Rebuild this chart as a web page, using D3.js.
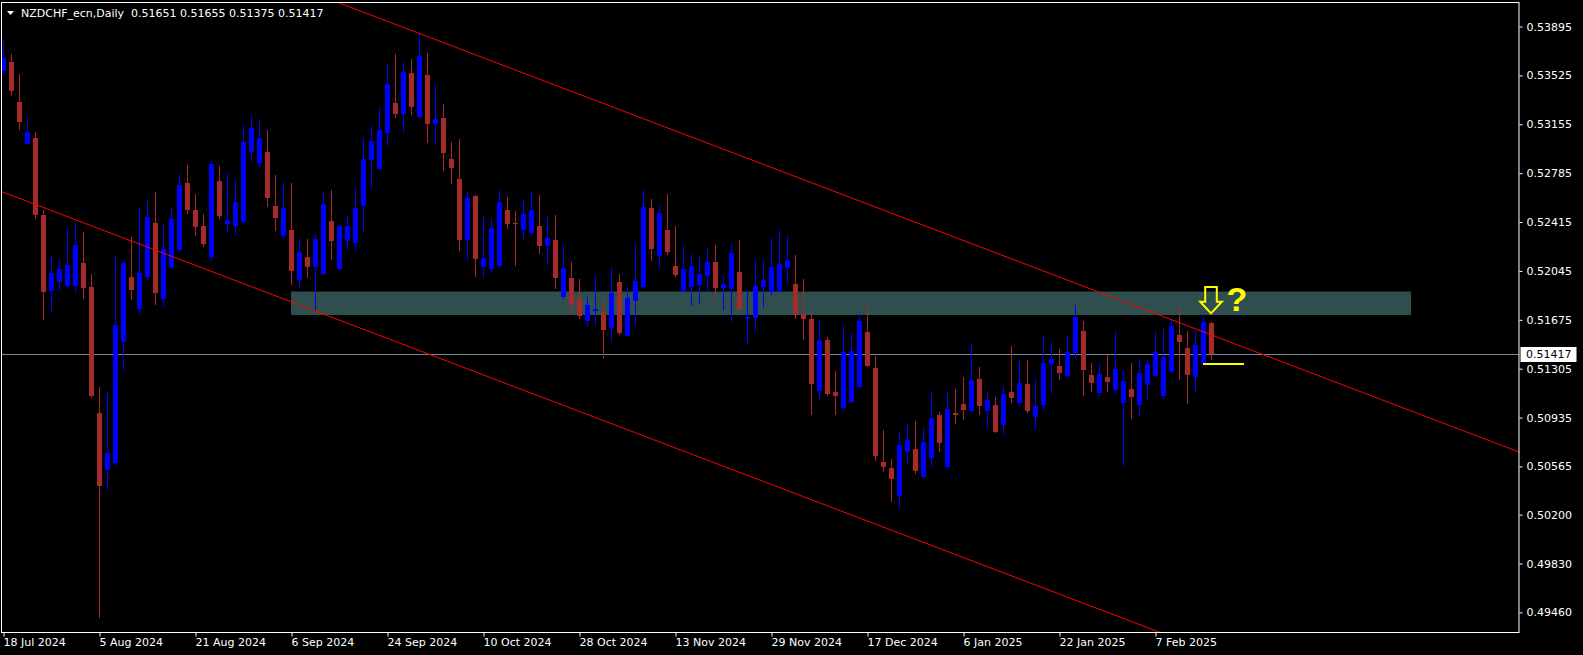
<!DOCTYPE html>
<html>
<head>
<meta charset="utf-8">
<script src="https://cdn.jsdelivr.net/npm/d3@7/dist/d3.min.js"></script>
<style>
  html, body { margin: 0; padding: 0; background: #000; overflow: hidden; }
  svg { display: block; }
  text { font-family: "DejaVu Sans", sans-serif; }
</style>
</head>
<body>
<svg id="chart" width="1583" height="655"></svg>
<script>
// ---------- DATA ----------
const symbolTitle = "NZDCHF_ecn,Daily";
const lastQuote = ["0.51651", "0.51655", "0.51375", "0.51417"];
const currentPrice = 0.51417;

const opens = [
0.53561,0.53627,0.53322,0.53008,0.53051,0.52467,0.51892,0.51962,0.51929,0.51929,
0.52103,0.51920,0.50973,0.50541,0.50589,0.51508,0.51996,0.51755,0.51996,0.52406,
0.51833,0.52069,0.52207,0.52708,0.52503,0.52383,0.52147,0.52725,0.52400,0.52383,
0.52414,0.52944,0.52860,0.52944,0.52534,0.52310,0.52352,0.51979,0.52151,0.52074,
0.52024,0.52423,0.52059,0.52272,0.52257,0.52539,0.52887,0.52817,0.53089,0.53316,
0.53235,0.53543,0.53210,0.53528,0.53157,0.53203,0.52892,0.52741,0.52279,0.52612,
0.52074,0.52059,0.52082,0.52506,0.52408,0.52355,0.52332,0.52385,0.52234,0.52279,
0.51845,0.51991,0.51833,0.51666,0.51742,0.51734,0.51613,0.51961,0.51552,0.51817,
0.51923,0.52521,0.52158,0.52355,0.52082,0.51893,0.51923,0.51939,0.52007,0.52113,
0.51916,0.51908,0.52037,0.51681,0.51689,0.51923,0.51886,0.51893,0.52068,0.51946,
0.51719,0.51681,0.51136,0.51522,0.51129,0.51010,0.51055,0.51166,0.51583,0.51310,
0.50599,0.50553,0.50341,0.50674,0.50697,0.50487,0.50631,0.50954,0.50561,0.50970,
0.51038,0.50985,0.51227,0.50985,0.51030,0.50879,0.51129,0.51045,0.51189,0.50939,
0.51030,0.51341,0.51325,0.51250,0.51424,0.51590,0.51257,0.51121,0.51242,0.51144,
0.51045,0.51151,0.51030,0.51182,0.51250,0.51098,0.51280,0.51560,0.51462,0.51242,
0.51341,0.51651];
const highs = [
0.53793,0.53686,0.53535,0.53210,0.53098,0.52503,0.52164,0.52139,0.52369,0.52425,
0.52338,0.52019,0.51163,0.51124,0.52164,0.52119,0.52299,0.52523,0.52579,0.52641,
0.52391,0.52512,0.52778,0.52845,0.52627,0.52475,0.52880,0.52837,0.52786,0.52733,
0.53143,0.53219,0.53196,0.53115,0.52770,0.52717,0.52708,0.52294,0.52287,0.52325,
0.52633,0.52658,0.52393,0.52461,0.52678,0.53054,0.53142,0.53276,0.53619,0.53687,
0.53627,0.53649,0.53839,0.53695,0.53453,0.53309,0.53021,0.53044,0.52642,0.52620,
0.52453,0.52446,0.52658,0.52605,0.52499,0.52590,0.52650,0.52620,0.52453,0.52468,
0.52241,0.52113,0.51984,0.51845,0.52014,0.51825,0.52068,0.52022,0.51923,0.52257,
0.52658,0.52590,0.52544,0.52627,0.52385,0.52241,0.52173,0.52151,0.52211,0.52241,
0.52014,0.52249,0.52279,0.51901,0.52128,0.52128,0.52294,0.52355,0.52309,0.52166,
0.51984,0.51734,0.51674,0.51545,0.51288,0.51636,0.51575,0.51719,0.51787,0.51401,
0.50841,0.50621,0.50818,0.50886,0.50909,0.50856,0.51136,0.50977,0.51136,0.51151,
0.51242,0.51492,0.51318,0.51121,0.51091,0.51174,0.51477,0.51371,0.51371,0.51227,
0.51560,0.51507,0.51454,0.51552,0.51787,0.51666,0.51348,0.51348,0.51409,0.51583,
0.51288,0.51348,0.51371,0.51371,0.51583,0.51605,0.51674,0.51780,0.51590,0.51590,
0.51719,0.51655];
const lows = [
0.53541,0.53378,0.53120,0.53005,0.52447,0.51682,0.51733,0.51901,0.51926,0.51892,
0.51839,0.51088,0.49425,0.50392,0.50577,0.51295,0.51833,0.51718,0.51985,0.51792,
0.51780,0.52066,0.52198,0.52481,0.52318,0.52234,0.52125,0.52445,0.52347,0.52327,
0.52411,0.52877,0.52823,0.52534,0.52352,0.52299,0.51943,0.51917,0.52001,0.51749,
0.52021,0.52135,0.52056,0.52211,0.52211,0.52349,0.52673,0.52814,0.52998,0.53210,
0.53097,0.53235,0.53207,0.53021,0.53008,0.52809,0.52711,0.52203,0.52128,0.52007,
0.51999,0.52037,0.52079,0.52370,0.52090,0.52294,0.52325,0.52181,0.52105,0.51916,
0.51842,0.51726,0.51689,0.51628,0.51636,0.51386,0.51515,0.51568,0.51549,0.51636,
0.51920,0.52128,0.52068,0.52173,0.52007,0.51890,0.51787,0.51802,0.51890,0.51840,
0.51757,0.51666,0.51754,0.51492,0.51598,0.51772,0.51870,0.51890,0.51954,0.51689,
0.51530,0.50964,0.51085,0.51106,0.50962,0.50995,0.51052,0.51163,0.51322,0.50616,
0.50531,0.50303,0.50250,0.50584,0.50516,0.50484,0.50571,0.50682,0.50553,0.50894,
0.50924,0.50982,0.50962,0.50864,0.50823,0.50811,0.51053,0.51030,0.50977,0.50856,
0.50993,0.51121,0.51227,0.51235,0.51386,0.51106,0.51136,0.51106,0.51136,0.51121,
0.50576,0.50932,0.50962,0.51083,0.51247,0.51083,0.51277,0.51227,0.51045,0.51144,
0.51338,0.51375];
const closes = [
0.53658,0.53409,0.53173,0.53095,0.52470,0.51886,0.52027,0.52057,0.52088,0.52243,
0.51917,0.51099,0.50415,0.50670,0.51634,0.52103,0.51898,0.52027,0.52450,0.51876,
0.52209,0.52436,0.52694,0.52503,0.52375,0.52248,0.52854,0.52459,0.52428,0.52565,
0.53020,0.53126,0.53051,0.52596,0.52445,0.52521,0.52047,0.52188,0.52074,0.52285,
0.52554,0.52272,0.52385,0.52385,0.52521,0.52890,0.53026,0.53112,0.53460,0.53233,
0.53551,0.53286,0.53672,0.53157,0.53195,0.52938,0.52824,0.52279,0.52597,0.52135,
0.52143,0.52370,0.52567,0.52400,0.52403,0.52476,0.52506,0.52234,0.52294,0.51991,
0.52068,0.51787,0.51704,0.51787,0.51757,0.51598,0.51878,0.51575,0.51840,0.51969,
0.52529,0.52211,0.52484,0.52188,0.52014,0.52059,0.52082,0.52022,0.52113,0.51916,
0.51946,0.52181,0.51757,0.51696,0.51931,0.51976,0.52074,0.52098,0.52128,0.51711,
0.51681,0.51191,0.51522,0.51113,0.51098,0.51431,0.51439,0.51666,0.51325,0.50646,
0.50561,0.50470,0.50727,0.50765,0.50531,0.50750,0.50932,0.50742,0.51000,0.50954,
0.50993,0.51219,0.51022,0.51068,0.50826,0.51113,0.51083,0.51197,0.50985,0.51022,
0.51348,0.51378,0.51272,0.51431,0.51696,0.51295,0.51197,0.51264,0.51204,0.51303,
0.51212,0.51091,0.51272,0.51341,0.51431,0.51394,0.51628,0.51507,0.51257,0.51484,
0.51658,0.51417];

// axis labels
const priceTickLabels = ["0.53895","0.53525","0.53155","0.52785","0.52415","0.52045","0.51675",
                         "0.51305","0.50935","0.50565","0.50200","0.49830","0.49460"];
const dateTickIndex  = [0, 12, 24, 36, 48, 60, 72, 84, 96, 108, 120, 132, 144];
const dateTickLabels = ["18 Jul 2024","5 Aug 2024","21 Aug 2024","6 Sep 2024","24 Sep 2024",
                        "10 Oct 2024","28 Oct 2024","13 Nov 2024","29 Nov 2024","17 Dec 2024",
                        "6 Jan 2025","22 Jan 2025","7 Feb 2025"];

// drawn objects (bar index, price)
const zoneBars   = [36, 176];
const zonePrices = [0.51711, 0.51889];
const upperChannel = [[50.84, 0.53869], [189.46, 0.50674]];
const lowerChannel = [[0, 0.52640], [144, 0.49322]];
const arrowTip = [151, 0.51724];
const questionAt = [153, 0.51742];
const supportBars = [150, 155.06];
const supportPrice = 0.51341;

// ---------- LAYOUT ----------
const W = 1583, H = 655;
const plot = {left: 2, top: 3, right: 1519, bottom: 632};

const svg = d3.select("#chart");
svg.append("rect").attr("width", W).attr("height", H).attr("fill", "#000");

const x = d3.scaleLinear().domain([0, 189]).range([3.5, 1515.5]);
const y = d3.scaleLinear().domain([0.49460, 0.53895]).range([612.4, 26.55]);

const defs = svg.append("defs");
defs.append("clipPath").attr("id", "plotclip").append("rect")
  .attr("x", plot.left).attr("y", plot.top)
  .attr("width", plot.right - plot.left).attr("height", plot.bottom - plot.top);

const g = svg.append("g").attr("clip-path", "url(#plotclip)");

// zone
g.append("rect")
  .attr("x", x(zoneBars[0]) - 0.5)
  .attr("y", y(zonePrices[1]))
  .attr("width", x(zoneBars[1]) - x(zoneBars[0]))
  .attr("height", y(zonePrices[0]) - y(zonePrices[1]))
  .attr("fill", "#2F4F4F");

// current price line
g.append("line")
  .attr("x1", plot.left).attr("x2", plot.right)
  .attr("y1", Math.round(y(currentPrice)) + 0.5).attr("y2", Math.round(y(currentPrice)) + 0.5)
  .attr("stroke", "#778899").attr("stroke-width", 1);

// candles
const bars = d3.range(opens.length).map(i => ({
  i, o: opens[i], h: highs[i], l: lows[i], c: closes[i]
}));
const bull = "#0000FF", bear = "#A52A2A";
const cg = g.append("g");
cg.selectAll("line.wick").data(bars).join("line")
  .attr("class", "wick")
  .attr("x1", d => x(d.i)).attr("x2", d => x(d.i))
  .attr("y1", d => Math.round(y(d.h))).attr("y2", d => Math.round(y(d.l)) + 1)
  .attr("stroke", d => d.c >= d.o ? bull : bear).attr("stroke-width", 1);
cg.selectAll("rect.body").data(bars).join("rect")
  .attr("class", "body")
  .attr("x", d => x(d.i) - 2.5)
  .attr("width", 5)
  .attr("y", d => Math.round(y(Math.max(d.o, d.c))))
  .attr("height", d => Math.max(1, Math.round(y(Math.min(d.o, d.c))) - Math.round(y(Math.max(d.o, d.c)))))
  .attr("fill", d => d.c >= d.o ? bull : bear);

// channel lines (extended rays)
function extLine(pts) {
  const [[i1, p1], [i2, p2]] = pts;
  const s = (p2 - p1) / (i2 - i1);
  const a = -5, b = 200;
  return [[x(a), y(p1 + s * (a - i1))], [x(b), y(p1 + s * (b - i1))]];
}
[upperChannel, lowerChannel].forEach(pts => {
  const L = extLine(pts);
  g.append("line")
    .attr("x1", L[0][0]).attr("y1", L[0][1]).attr("x2", L[1][0]).attr("y2", L[1][1])
    .attr("stroke", "#FF0000").attr("stroke-width", 1);
});

// yellow annotations
const tx = x(arrowTip[0]) - 0.5, ty = y(arrowTip[1]);
const arrowPts = [[0,0],[-10.8,-11.6],[-5.8,-11.6],[-5.8,-26.4],[5.8,-26.4],[5.8,-11.6],[10.8,-11.6]];
g.append("path")
  .attr("d", d3.line()(arrowPts.map(p => [tx + p[0], ty + p[1]])) + "Z")
  .attr("fill", "none").attr("stroke", "#FFFF00").attr("stroke-width", 2)
  .attr("stroke-linejoin", "miter");
g.append("text")
  .attr("x", x(questionAt[0]) - 1).attr("y", y(questionAt[1]))
  .attr("fill", "#FFFF00")
  .style("font-family", "'Liberation Sans', Arial, sans-serif")
  .style("font-weight", "bold").style("font-size", "34px")
  .text("?");
g.append("line")
  .attr("x1", x(supportBars[0]) - 0.5).attr("x2", x(supportBars[1]))
  .attr("y1", y(supportPrice)).attr("y2", y(supportPrice))
  .attr("stroke", "#FFFF00").attr("stroke-width", 2);

// frame
svg.append("rect")
  .attr("x", 1.5).attr("y", 2.5)
  .attr("width", plot.right - 1.5).attr("height", plot.bottom - 2)
  .attr("fill", "none").attr("stroke", "#FFFFFF").attr("stroke-width", 1);

// right price axis
const yAxis = d3.axisRight(y)
  .tickValues(priceTickLabels.map(Number))
  .tickFormat((d, i) => priceTickLabels[i])
  .tickSize(3).tickPadding(4);
const ya = svg.append("g").attr("transform", `translate(${plot.right + 0.5},0)`).call(yAxis);
ya.select(".domain").remove();
ya.selectAll(".tick line").attr("stroke", "#FFFFFF");
ya.selectAll(".tick text").attr("fill", "#FFFFFF")
  .style("font-family", "'DejaVu Sans', sans-serif").style("font-size", "11px");

// current price label
const cy = Math.round(y(currentPrice)) + 0.5;
svg.append("rect")
  .attr("x", plot.right + 1.5).attr("y", cy - 7.5)
  .attr("width", 56).attr("height", 15).attr("fill", "#FFFFFF");
svg.append("text")
  .attr("x", plot.right + 7).attr("y", cy).attr("dy", "0.36em")
  .attr("fill", "#000000").style("font-size", "11px")
  .text(currentPrice.toFixed(5));

// bottom date axis
const xAxis = d3.axisBottom(x)
  .tickValues(dateTickIndex)
  .tickFormat((d, i) => dateTickLabels[i])
  .tickSize(4).tickPadding(2);
const xa = svg.append("g").attr("transform", `translate(0,${plot.bottom + 0.5})`).call(xAxis);
xa.select(".domain").remove();
xa.selectAll(".tick line").attr("stroke", "#FFFFFF");
xa.selectAll(".tick text").attr("fill", "#FFFFFF")
  .attr("text-anchor", "start").attr("x", -0.5)
  .style("font-family", "'DejaVu Sans', sans-serif").style("font-size", "11px");

// title
svg.append("path")
  .attr("d", "M7,11 L14,11 L10.5,15 Z").attr("fill", "#FFFFFF");
svg.append("text")
  .attr("x", 21).attr("y", 16.5)
  .attr("fill", "#FFFFFF").style("font-size", "11px")
  .attr("xml:space", "preserve")
  .text(symbolTitle + "  " + lastQuote.join(" "));
</script>
</body>
</html>
